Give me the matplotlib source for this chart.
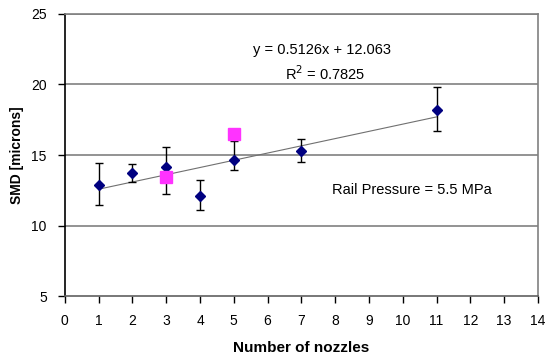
import numpy as np
import matplotlib
matplotlib.use('Agg')
import matplotlib.pyplot as plt

plt.rcParams['font.family'] = ['Liberation Sans', 'DejaVu Sans']

# measured SMD with error bars
nozzles = [1, 2, 3, 4, 5, 7, 11]
smd = [12.9, 13.7, 14.15, 12.1, 14.65, 15.3, 18.2]
err_hi = [14.4, 14.35, 15.6, 13.2, 16.0, 16.1, 19.85]
err_lo = [11.45, 13.1, 12.2, 11.1, 13.95, 14.5, 16.7]

# second series (pink squares)
nozzles2 = [3, 5]
smd2 = [13.45, 16.5]

# trendline from the chart label
slope, icpt = 0.5126, 12.063

smd_a = np.array(smd)
yerr = [smd_a - np.array(err_lo), np.array(err_hi) - smd_a]

fig = plt.figure(figsize=(5.45, 3.56), dpi=100)
ax = fig.add_axes([0.119, 0.1685, 0.868, 0.7922])

for y in [10, 15, 20, 25]:
    ax.axhline(y, color='#808080', lw=1.2, zorder=1)

xs = np.array([1, 11])
ax.plot(xs, slope * xs + icpt, color='#707070', lw=0.8, zorder=2)

ax.errorbar(nozzles, smd, yerr=yerr, fmt='none', ecolor='black', elinewidth=1,
            capsize=3, capthick=1, zorder=3)
ax.plot(nozzles, smd, 'D', color='#000080', ms=5, zorder=4)
ax.plot(nozzles2, smd2, 's', color='#FF33FF', ms=8, zorder=5)

ax.text(7.6, 22.45, 'y = 0.5126x + 12.063', ha='center', va='center', fontsize=10.5)
ax.text(7.7, 20.75, 'R$^2$ = 0.7825', ha='center', va='center', fontsize=10.5)
ax.text(7.9, 12.5, 'Rail Pressure = 5.5 MPa', ha='left', va='center', fontsize=10.5)

ax.set_xlim(0, 14)
ax.set_ylim(5, 25)
ax.set_xticks(range(0, 15))
ax.set_yticks([5, 10, 15, 20, 25])
ax.tick_params(labelsize=10, length=5, width=1, direction='out')
ax.tick_params(axis='x', pad=8)
ax.tick_params(axis='y', pad=8)
ax.set_xlabel('Number of nozzles', fontsize=11, fontweight='bold', labelpad=9)
ax.set_ylabel('SMD [microns]', fontsize=10, fontweight='bold', labelpad=5)

ax.spines['left'].set_color('black')
ax.spines['bottom'].set_color('#606060')
ax.spines['right'].set_color('#808080')
ax.spines['top'].set_color('#808080')
for s in ax.spines.values():
    s.set_linewidth(1.2)

fig.savefig('out.png', dpi=100)
